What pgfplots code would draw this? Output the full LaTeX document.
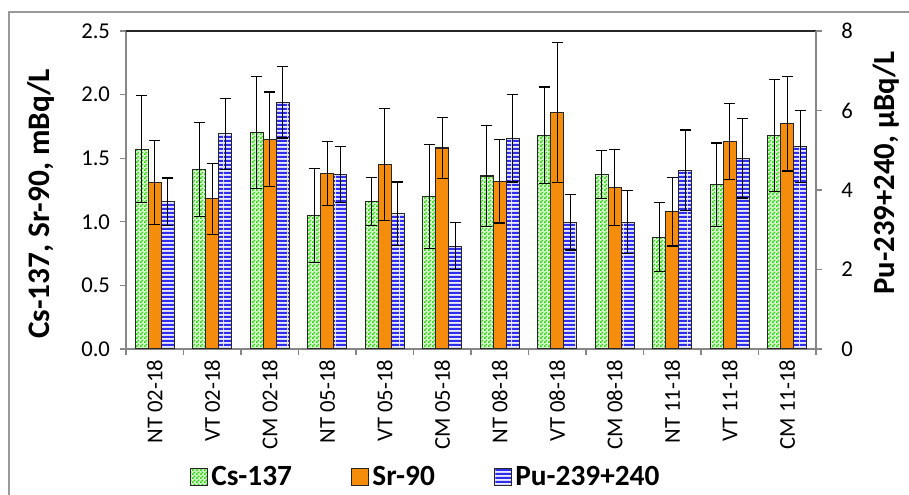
\documentclass[border=0pt]{standalone}
\usepackage{pgfplots}
\pgfplotsset{compat=1.18}
\usepackage{pgfplotstable}
\usepackage{fontspec}
\setmainfont{Carlito}
\usetikzlibrary{patterns}
\definecolor{csgreen}{RGB}{45,210,10}
\definecolor{srorange}{RGB}{245,140,12}
\definecolor{publue}{RGB}{45,45,235}
\definecolor{axgray}{RGB}{134,134,134}
\pgfdeclarepatternformonly{mychecker}{\pgfpointorigin}{\pgfqpoint{3pt}{3pt}}{\pgfqpoint{3pt}{3pt}}{%
  \pgfpathrectangle{\pgfpointorigin}{\pgfqpoint{1.5pt}{1.5pt}}%
  \pgfpathrectangle{\pgfqpoint{1.5pt}{1.5pt}}{\pgfqpoint{1.5pt}{1.5pt}}%
  \pgfusepath{fill}}
\pgfdeclarepatternformonly{mystripes}{\pgfpointorigin}{\pgfqpoint{12pt}{3.2pt}}{\pgfqpoint{12pt}{3.2pt}}{%
  \pgfpathrectangle{\pgfpointorigin}{\pgfqpoint{12pt}{1.9pt}}%
  \pgfusepath{fill}}
\pgfplotstableread{
x cs cse sr sre pu pue
0 1.57 0.42 1.31 0.33 3.70 0.60
1 1.41 0.37 1.18 0.28 5.41 0.89
2 1.70 0.44 1.65 0.37 6.21 0.90
3 1.05 0.37 1.38 0.25 4.39 0.70
4 1.16 0.19 1.45 0.44 3.40 0.80
5 1.20 0.41 1.58 0.24 2.59 0.60
6 1.36 0.40 1.32 0.33 5.30 1.10
7 1.68 0.38 1.86 0.55 3.19 0.70
8 1.37 0.19 1.27 0.30 3.19 0.79
9 0.88 0.27 1.08 0.27 4.50 1.01
10 1.29 0.33 1.63 0.30 4.80 1.00
11 1.68 0.44 1.77 0.37 5.09 0.91
}\data
\newcommand{\tickfont}{\fontsize{17}{20}\selectfont}
\pgfplotsset{
  csstyle/.style={draw=black!85, line width=0.8pt, preaction={fill=csgreen!20},
    pattern=mychecker, pattern color=csgreen},
  srstyle/.style={draw=black!85, line width=0.8pt, fill=srorange},
  pustyle/.style={draw=black!85, line width=0.8pt, preaction={fill=publue!10},
    pattern=mystripes, pattern color=publue},
  myerr/.style={error bars/.cd, y dir=both, y explicit,
    error bar style={black, line width=0.9pt},
    error mark options={rotate=90, black, line width=0.9pt, mark size=4.1pt}},
  common/.style={
    at={(94.5pt,109.5pt)}, anchor=south west,
    scale only axis, width=517.5pt, height=238.5pt,
    xmin=-0.5, xmax=11.5,
    ybar, bar width=9.75pt,
    axis line style={draw=axgray, line width=0.8pt},
    tick style={draw=axgray, line width=0.8pt},
    tick align=outside,
    major tick length=4.5pt, minor tick length=4.5pt,
  },
}
\begin{document}
\begin{tikzpicture}
\useasboundingbox (0,0) rectangle (681.75pt,371.25pt);
\draw[black!40, line width=0.8pt] (6.75pt,-10pt) rectangle (700pt,362.25pt);
\begin{axis}[common,
  ymin=0, ymax=2.5,
  ytick={0,0.5,1,1.5,2,2.5}, ytick pos=left,
  yticklabel style={font=\tickfont, text=black, xshift=-4pt, /pgf/number format/.cd, fixed, fixed zerofill, precision=1, assume math mode=true},
  xtick={0,...,11}, xtick pos=bottom,
  major x tick style={draw=none},
  minor xtick={-0.5,0.5,...,11.5},
  xticklabels={NT 02-18, VT 02-18, CM 02-18, NT 05-18, VT 05-18, CM 05-18, NT 08-18, VT 08-18, CM 08-18, NT 11-18, VT 11-18, CM 11-18},
  xticklabel style={font=\tickfont, text=black, rotate=90, anchor=east},
  ylabel={Cs-137, Sr-90, mBq/L},
  ylabel style={at={(axis description cs:-0.1232,0.456)}, anchor=center, font=\fontsize{23.5}{27}\selectfont\bfseries},
]
\addplot[csstyle, bar shift=-9.75pt, myerr] table[x=x, y=cs, y error=cse] {\data};
\addplot[srstyle, bar shift=0pt, myerr] table[x=x, y=sr, y error=sre] {\data};
\draw[black!85, line width=0.8pt] (rel axis cs:0,1) -- (rel axis cs:1,1);
\end{axis}
\begin{axis}[common,
  ymin=0, ymax=8,
  axis y line*=right, axis x line=none,
  ytick={0,2,4,6,8},
  yticklabel style={font=\tickfont, text=black, xshift=11pt, /pgf/number format/.cd, assume math mode=true},
  ylabel={Pu-239+240, µBq/L},
  ylabel style={at={(axis description cs:1.1014,0.553)}, anchor=center, font=\fontsize{23}{27}\selectfont\bfseries},
  legend columns=3,
  legend style={at={(axis description cs:0.4355,-0.4025)}, anchor=center, draw=none, fill=none,
    font=\fontsize{22}{26}\selectfont\bfseries,
    nodes={inner xsep=2.5pt},
    /tikz/every even column/.append style={column sep=42pt}},
  legend image code/.code={\draw[#1] (0pt,-6.2pt) rectangle (12.5pt,6.2pt);},
]
\addlegendimage{csstyle}
\addlegendentry{Cs-137}
\addlegendimage{srstyle}
\addlegendentry{Sr-90}
\addplot[pustyle, bar shift=9.75pt, myerr] table[x=x, y=pu, y error=pue] {\data};
\addlegendentry{Pu-239+240}
\end{axis}
\end{tikzpicture}
\end{document}
